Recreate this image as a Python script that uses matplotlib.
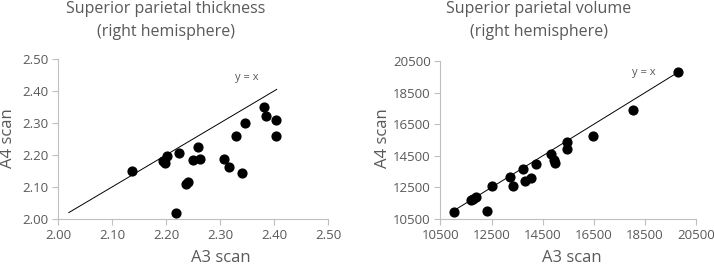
import matplotlib
matplotlib.use("Agg")
import matplotlib.pyplot as plt

# Left chart: thickness
thick_a3 = [2.137, 2.195, 2.198, 2.202, 2.224, 2.250, 2.263, 2.260, 2.237, 2.240,
            2.219, 2.308, 2.317, 2.341, 2.330, 2.347, 2.382, 2.385, 2.404, 2.403]
thick_a4 = [2.150, 2.182, 2.174, 2.197, 2.205, 2.184, 2.188, 2.226, 2.110, 2.117,
            2.020, 2.187, 2.163, 2.143, 2.260, 2.299, 2.349, 2.323, 2.308, 2.258]
thick_line = [2.02, 2.405]
thick_ticks = [2.00, 2.10, 2.20, 2.30, 2.40, 2.50]

# Right chart: volume
vol_a3 = [11035, 11687, 11790, 11895, 12312, 12520, 13211, 13352, 13742, 13809,
          14055, 14226, 14812, 14941, 14992, 15449, 15449, 16465, 18027, 19785]
vol_a4 = [10943, 11703, 11780, 11873, 10987, 12570, 13158, 12608, 13665, 12905,
          13114, 13962, 14633, 14234, 14025, 15354, 14949, 15734, 17418, 19823]
vol_line = [10990, 19790]
vol_ticks = [10500, 12500, 14500, 16500, 18500, 20500]

plt.rcParams['font.family'] = ['Open Sans', 'DejaVu Sans']
TXT = '#595959'
SP = '#bfbfbf'

fig = plt.figure(figsize=(7.14, 2.67), dpi=100)
W, H = 714, 267

def setup(ax, ticks, fmt):
    ax.set_xlim(ticks[0], ticks[-1])
    ax.set_ylim(ticks[0], ticks[-1])
    ax.set_xticks(ticks)
    ax.set_yticks(ticks)
    ax.set_xticklabels([fmt(t) for t in ticks])
    ax.set_yticklabels([fmt(t) for t in ticks])
    for s in ['top', 'right']:
        ax.spines[s].set_visible(False)
    for s in ['left', 'bottom']:
        ax.spines[s].set_color(SP)
        ax.spines[s].set_linewidth(0.8)
    ax.tick_params(colors=SP, labelcolor=TXT, labelsize=9.5, length=4, width=0.8,
                   direction='out', pad=3)

ax1 = fig.add_axes([58 / W, 1 - 219 / H, 270 / W, 160 / H])
setup(ax1, thick_ticks, lambda t: f"{t:.2f}")
ax1.plot(thick_line, thick_line, color='black', lw=0.7, zorder=2)
ax1.scatter(thick_a3, thick_a4, s=40, color='black', zorder=3, clip_on=False)
ax1.text(2.35, 2.425, 'y = x', fontsize=8, color=TXT, ha='center', va='bottom')

ax2 = fig.add_axes([440.3 / W, 1 - 219 / H, 256 / W, 158 / H])
setup(ax2, vol_ticks, lambda t: f"{t:d}")
ax2.plot(vol_line, vol_line, color='black', lw=0.7, zorder=2)
ax2.scatter(vol_a3, vol_a4, s=40, color='black', zorder=3, clip_on=False)
ax2.text(18445, 19760, 'y = x', fontsize=8, color=TXT, ha='center', va='center')

# Titles
fig.text(166 / W, 1 - 9 / H, 'Superior parietal thickness', fontsize=11.5, color=TXT,
         ha='center', va='center')
fig.text(166 / W, 1 - 32 / H, '(right hemisphere)', fontsize=11.5, color=TXT,
         ha='center', va='center')
fig.text(539 / W, 1 - 9 / H, 'Superior parietal volume', fontsize=11.5, color=TXT,
         ha='center', va='center')
fig.text(539 / W, 1 - 32 / H, '(right hemisphere)', fontsize=11.5, color=TXT,
         ha='center', va='center')

# Axis labels
fig.text(221 / W, 1 - 258 / H, 'A3 scan', fontsize=12, color=TXT, ha='center', va='center')
fig.text(572 / W, 1 - 258 / H, 'A3 scan', fontsize=12, color=TXT, ha='center', va='center')
fig.text(8 / W, 1 - 138 / H, 'A4 scan', fontsize=12, color=TXT, ha='center', va='center',
         rotation=90)
fig.text(383 / W, 1 - 138 / H, 'A4 scan', fontsize=12, color=TXT, ha='center', va='center',
         rotation=90)

fig.savefig('out.png', dpi=100)
